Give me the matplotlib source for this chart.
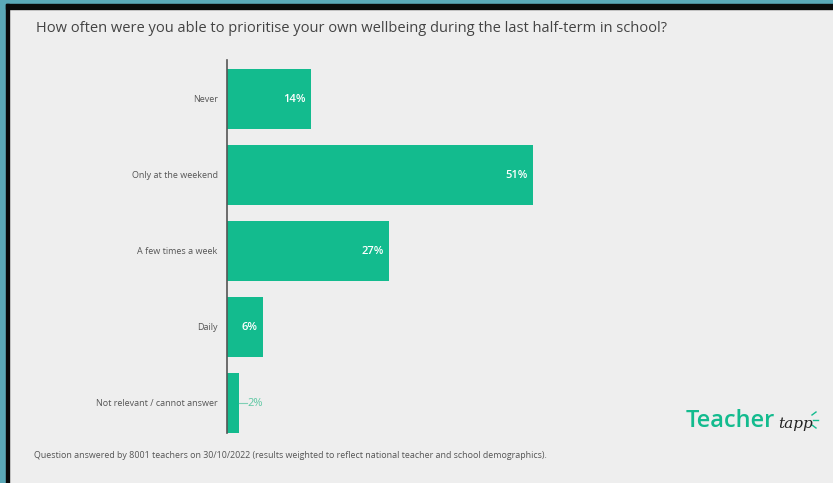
import matplotlib
matplotlib.use("Agg")
import matplotlib.pyplot as plt
from matplotlib.patches import Rectangle
from matplotlib.lines import Line2D

categories = ["Never", "Only at the weekend", "A few times a week", "Daily", "Not relevant / cannot answer"]
values = [14, 51, 27, 6, 2]
value_labels = ["14%", "51%", "27%", "6%", "2%"]

title = "How often were you able to prioritise your own wellbeing during the last half-term in school?"
footnote = ("Question answered by 8001 teachers on 30/10/2022 (results weighted to reflect national "
            "teacher and school demographics).")

W, H = 833, 483
BG = "#EEEEEE"
GREEN = "#13BB8E"
fig = plt.figure(figsize=(W / 100, H / 100), dpi=100, facecolor=BG)

def fx(px):
    return px / W

def fy(py):
    return 1 - py / H

# frame
fig.patches.append(Rectangle((0, fy(4)), 1, 4 / H, transform=fig.transFigure, color="#5BA9B8", zorder=0))
fig.patches.append(Rectangle((0, 0), fx(6), 1, transform=fig.transFigure, color="#5BA9B8", zorder=0))
fig.patches.append(Rectangle((fx(6), fy(9)), 1, 5 / H, transform=fig.transFigure, color="#0A0A0A", zorder=1))
fig.patches.append(Rectangle((fx(6), 0), 3 / W, fy(4), transform=fig.transFigure, color="#0A0A0A", zorder=1))

ax = fig.add_axes([fx(227), fy(433), fx(820) - fx(227), fy(60) - fy(433)])
ax.set_facecolor(BG)
ax.patch.set_alpha(0)
ypos = list(range(len(categories)))
ax.barh(ypos, values, height=0.8, color=GREEN, zorder=2)
ax.set_xlim(0, (820 - 227) / 6.0)
ax.set_ylim((433 - 99) / 76, (60 - 99) / 76)
for s in ["top", "right", "bottom"]:
    ax.spines[s].set_visible(False)
ax.spines["left"].set_color("#555555")
ax.spines["left"].set_linewidth(1.2)
ax.set_xticks([])
ax.set_yticks(ypos)
ax.set_yticklabels(categories, fontsize=6.5, color="#555555", family="Open Sans")
ax.tick_params(axis="y", length=0, pad=6.8)

for i, (v, lab) in enumerate(zip(values, value_labels)):
    if v >= 5:
        ax.text(v - 0.9, i, lab, ha="right", va="center", color="white",
                fontsize=8, fontweight="semibold", family="Open Sans", zorder=3)
    else:
        ax.plot([v, v + 1.3], [i, i], color="#7FCFB5", lw=0.8, zorder=3)
        ax.text(v + 1.4, i, lab, ha="left", va="center", color="#5CC7A2",
                fontsize=8, family="Open Sans", zorder=3)

fig.text(fx(36), fy(29), title, fontsize=10.5, color="#444444", family="Open Sans",
         ha="left", va="center")
fig.text(fx(34), fy(455), footnote, fontsize=6.4, color="#555555", family="Open Sans",
         ha="left", va="center")

# logo
fig.text(fx(686), fy(421), "Teacher", fontsize=17, color=GREEN, fontweight="semibold",
         family="Open Sans", ha="left", va="center")
fig.text(fx(778), fy(424), "tapp", fontsize=11, color="#222222", style="italic",
         family="DejaVu Serif", ha="left", va="center")
for dx, dy, ex, ey in [(812, 415, 816, 412), (813, 420, 818, 420), (812, 425, 816, 428)]:
    fig.add_artist(Line2D([fx(dx), fx(ex)], [fy(dy), fy(ey)], transform=fig.transFigure,
                          color=GREEN, lw=1.0))

fig.savefig("out.png", dpi=100, facecolor=BG)
